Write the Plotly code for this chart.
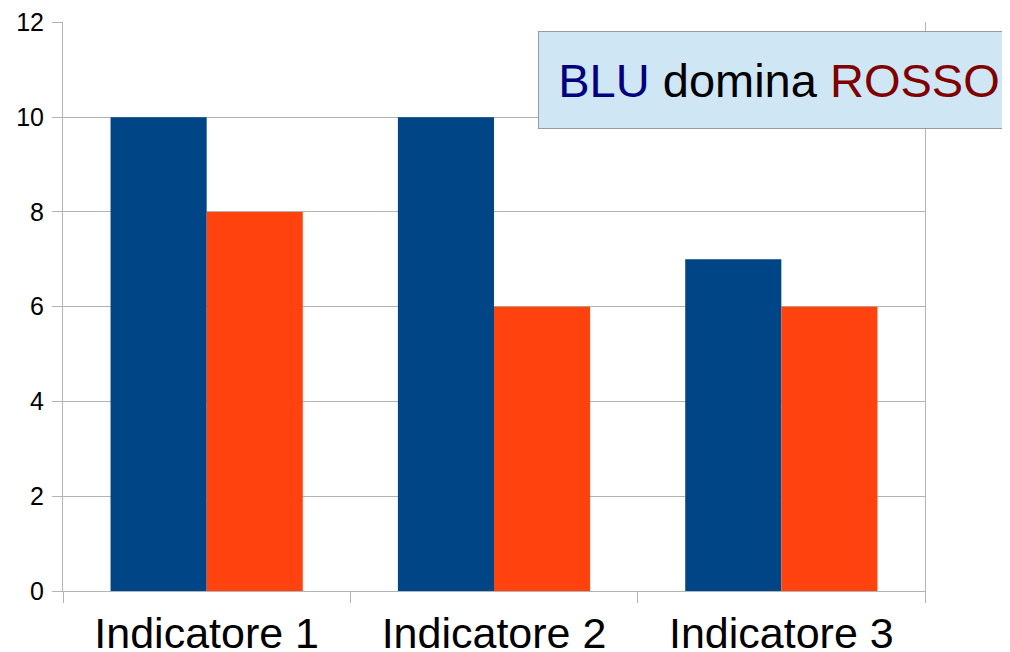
import plotly.graph_objects as go

categories = ["Indicatore 1", "Indicatore 2", "Indicatore 3"]
blu_values = [10, 10, 7]
rosso_values = [8, 6, 6]
y_ticks = [0, 2, 4, 6, 8, 10, 12]

W, H = 1010, 652
OFF = 8  # page body margin offset
L, R, T, B = 63 - OFF, 925 - OFF, 22 - OFF, 591 - OFF

fig = go.Figure()
fig.add_trace(go.Bar(x=categories, y=blu_values, name="BLU", marker=dict(color="#004586", line=dict(width=0))))
fig.add_trace(go.Bar(x=categories, y=rosso_values, name="ROSSO", marker=dict(color="#ff420e", line=dict(width=0))))

fig.update_layout(
    width=W, height=H,
    margin=dict(l=L, r=W - R, t=T, b=H - B, pad=0, autoexpand=False),
    paper_bgcolor="white", plot_bgcolor="white",
    barmode="group", bargap=0.331, bargroupgap=0,
    showlegend=False,
    font=dict(family="Liberation Sans, Arial, sans-serif", color="black"),
)
fig.update_yaxes(
    range=[0, 12.01], tickvals=y_ticks, ticktext=[str(v) for v in y_ticks],
    showgrid=True, gridcolor="#b3b3b3", gridwidth=1,
    showline=True, linecolor="#b3b3b3", linewidth=1, mirror=True,
    ticks="outside", ticklen=10, tickcolor="#b3b3b3", tickwidth=1,
    tickfont=dict(size=25, color="black"), ticklabelstandoff=3,
    zeroline=False, automargin=False,
)
fig.update_xaxes(
    type="category", tickson="boundaries",
    showgrid=False, showline=True, linecolor="#b3b3b3", linewidth=1,
    ticks="outside", ticklen=11, tickcolor="#b3b3b3", tickwidth=1,
    tickfont=dict(size=43, color="black"), ticklabelstandoff=4,
    automargin=False,
)

box_left = 538 - OFF
box_top = 31 - OFF
fig.add_annotation(
    xref="paper", yref="paper",
    x=(box_left - L) / (R - L), y=(B - box_top) / (B - T),
    xanchor="left", yanchor="top",
    text="<span style='color:#000080'>BLU</span> domina <span style='color:#800000'>ROSSO</span>",
    showarrow=False,
    font=dict(size=47, color="black", family="Liberation Sans, Arial, sans-serif"),
    bgcolor="#cfe6f4", bordercolor="#999999", borderwidth=1, borderpad=8,
    width=464, height=80, align="center", valign="middle",
)

fig.write_html("out.html")
